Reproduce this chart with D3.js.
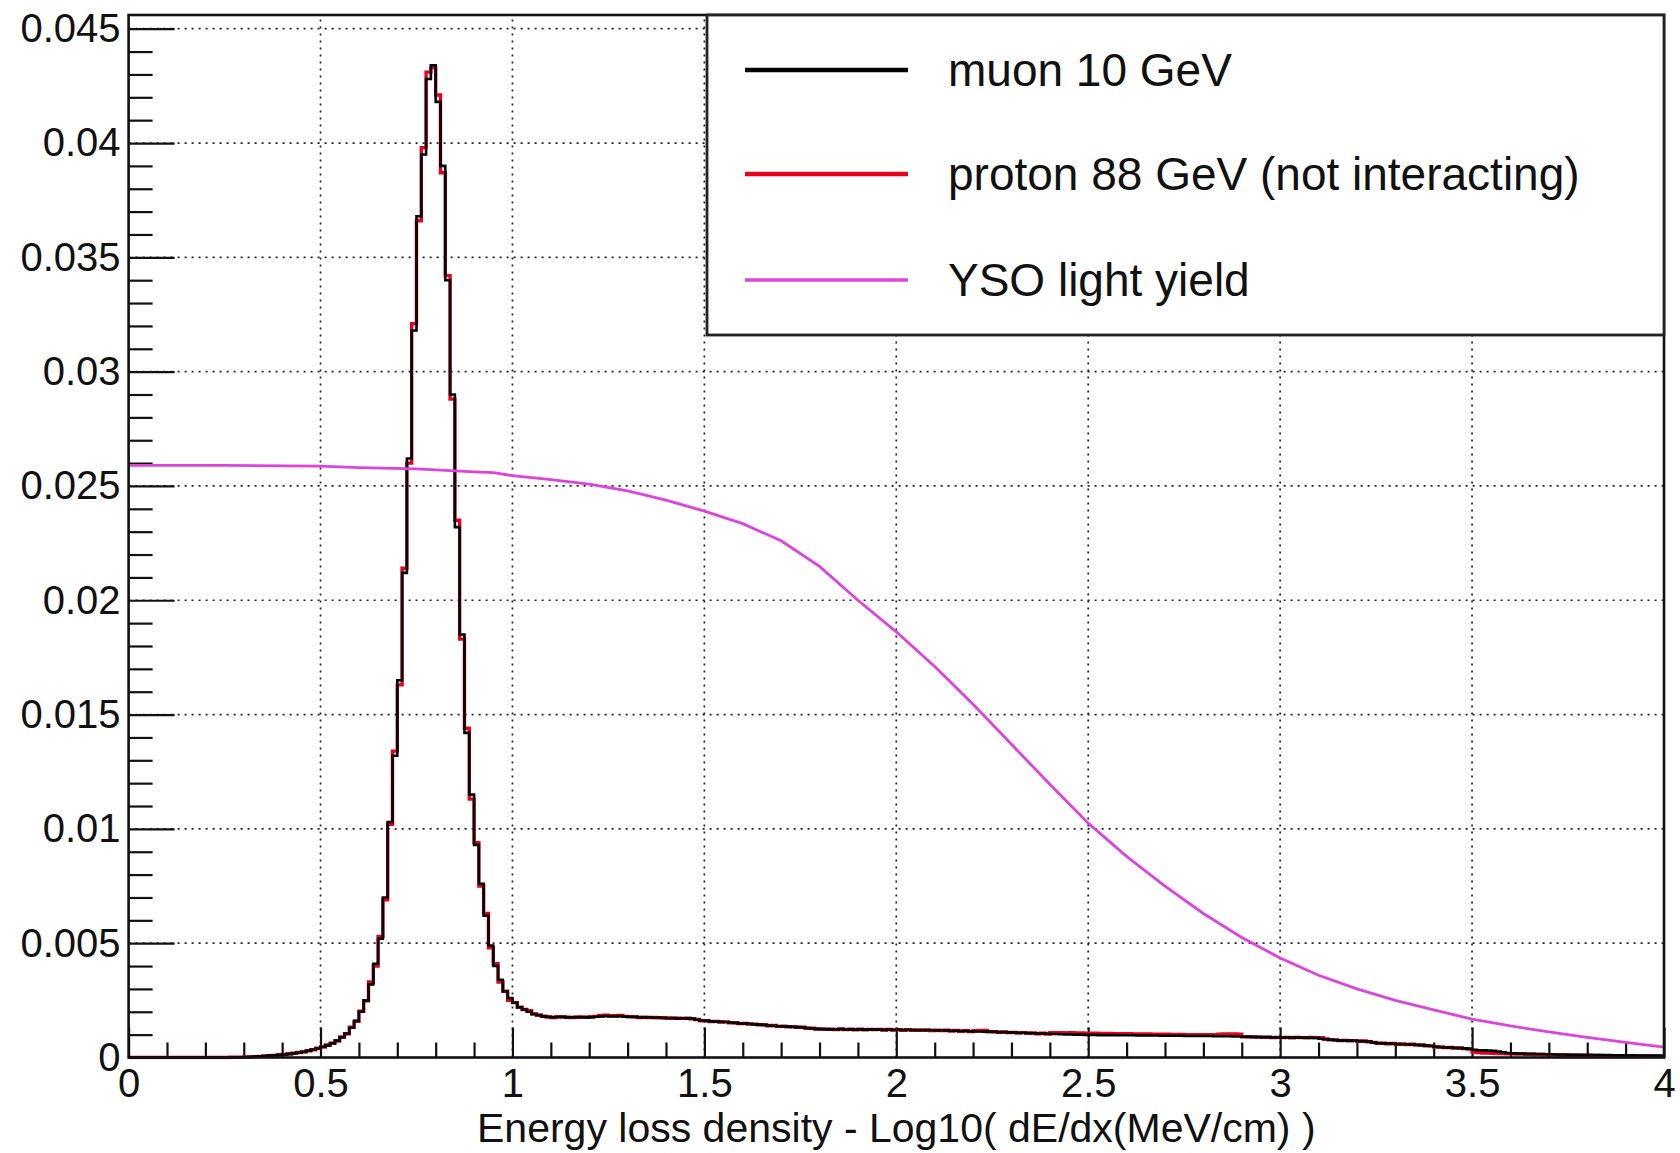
<!DOCTYPE html>
<html lang="en">
<head>
<meta charset="utf-8">
<title>Energy loss density</title>
<script src="https://d3js.org/d3.v7.min.js"></script>
<style>
  body { margin: 0; background: #fff; }
  text { font-family: "Liberation Sans", Arial, Helvetica, sans-serif; fill: #111; }
</style>
</head>
<body>
<script>
// histogram binning: 320 bins of 0.0125 from 0 to 4
var binWidth = 0.0125;

// muon 10 GeV, one row = 0.1 in x (8 bins)
var muonValues = [
  0,0,0,0,0,0,0,0,
  0,0,0,0,0,0,0,0,
  0,0,0,0,0,0,0.00001,0.00001,
  0.00002,0.00003,0.00004,0.00005,0.00006,0.00008,0.0001,0.00011,
  0.00013,0.00016,0.00018,0.00021,0.00025,0.00029,0.00035,0.0004,
  0.00047,0.00053,0.00062,0.00074,0.00088,0.00105,0.0013,0.0016,
  0.002,0.0025,0.0032,0.0041,0.0052,0.007,0.0103,0.0132,
  0.0165,0.0212,0.0262,0.0318,0.0368,0.0395,0.0428,0.0434,
  0.0418,0.039,0.034,0.029,0.0232,0.0185,0.0142,0.0115,
  0.0093,0.0076,0.0062,0.0049,0.004,0.0034,0.0029,0.0026,
  0.0024,0.0022,0.0021,0.002,0.0019,0.00185,0.0018,0.00178,
  0.00176,0.00178,0.00177,0.00175,0.00176,0.00177,0.00176,0.00175,
  0.00176,0.00178,0.0018,0.00181,0.0018,0.0018,0.00181,0.00179,
  0.00178,0.00177,0.00176,0.00175,0.00176,0.00174,0.00175,0.00173,
  0.00173,0.00172,0.00171,0.00172,0.00171,0.0017,0.00165,0.00162,
  0.0016,0.00158,0.00157,0.00156,0.00155,0.00153,0.00151,0.00149,
  0.00148,0.00147,0.00145,0.00144,0.00142,0.0014,0.00139,0.00137,
  0.00136,0.00135,0.00134,0.00133,0.00131,0.00129,0.00127,0.00125,
  0.00124,0.00124,0.00123,0.00123,0.00124,0.00123,0.00123,0.00122,
  0.00123,0.00122,0.00122,0.00123,0.00122,0.00121,0.00122,0.00121,
  0.00121,0.0012,0.00121,0.0012,0.00119,0.0012,0.00119,0.00119,
  0.00118,0.00119,0.00118,0.00117,0.00117,0.00116,0.00116,0.00115,
  0.00114,0.00114,0.00113,0.00113,0.00112,0.00111,0.00111,0.0011,
  0.00109,0.00108,0.00108,0.00107,0.00106,0.00105,0.00105,0.00104,
  0.00103,0.00103,0.00102,0.00101,0.00101,0.001,0.001,0.00099,
  0.00099,0.00099,0.00098,0.00098,0.00098,0.00098,0.00097,0.00097,
  0.00097,0.00097,0.00096,0.00096,0.00096,0.00096,0.00096,0.00095,
  0.00095,0.00095,0.00095,0.00095,0.00094,0.00094,0.00094,0.00094,
  0.00094,0.00094,0.00093,0.00093,0.00093,0.00093,0.00092,0.00092,
  0.00091,0.0009,0.0009,0.00089,0.00089,0.00089,0.00088,0.00088,
  0.00088,0.00088,0.00087,0.00087,0.00087,0.00086,0.00086,0.00086,
  0.00082,0.0008,0.00078,0.00076,0.00075,0.00074,0.00074,0.00073,
  0.00072,0.00071,0.0007,0.00065,0.00063,0.00062,0.00061,0.0006,
  0.00059,0.00058,0.00058,0.00057,0.00056,0.00054,0.00052,0.0005,
  0.00047,0.00045,0.00044,0.00043,0.00042,0.00041,0.0004,0.00038,
  0.00034,0.00032,0.00031,0.0003,0.00029,0.00026,0.00023,0.0002,
  0.00018,0.00017,0.00017,0.00016,0.00016,0.00015,0.00015,0.00014,
  0.00014,0.00013,0.00013,0.00013,0.00012,0.00012,0.00012,0.00012,
  0.00012,0.00011,0.00011,0.00011,0.00011,0.0001,0.0001,0.0001,
  0.0001,0.0001,0.00009,0.00009,0.00009,0.00008,0.00008,0.00008
];

// proton 88 GeV (not interacting)
var protonValues = [
  0,0,0,0,0,0,0,0,
  0,0,0,0,0,0,0,0,
  0,0,0,0,0,0.00001,0.00001,0.00001,
  0.00002,0.00002,0.00004,0.00005,0.00007,0.00008,0.00009,0.00012,
  0.00013,0.00015,0.00019,0.00022,0.00024,0.0003,0.00034,0.00041,
  0.00046,0.00055,0.00063,0.00072,0.0009,0.00104,0.00132,0.00158,
  0.00203,0.00248,0.0033,0.004,0.0053,0.0069,0.0102,0.0134,
  0.0163,0.0214,0.026,0.0321,0.0366,0.0398,0.0431,0.0433,
  0.0421,0.0387,0.0342,0.0288,0.0235,0.0183,0.0144,0.0113,
  0.0094,0.0075,0.0063,0.0048,0.0041,0.0033,0.0029,0.0025,
  0.0024,0.0022,0.0021,0.00205,0.0019,0.00186,0.00181,0.00177,
  0.00175,0.00177,0.00178,0.00176,0.00175,0.00176,0.00177,0.00176,
  0.00178,0.0018,0.00184,0.00185,0.00183,0.00183,0.00184,0.0018,
  0.00178,0.00178,0.00175,0.00176,0.00175,0.00175,0.00174,0.00174,
  0.00172,0.00173,0.00172,0.00171,0.00172,0.00169,0.00166,0.00161,
  0.00161,0.00157,0.00158,0.00155,0.00156,0.00152,0.00152,0.00148,
  0.00149,0.00146,0.00146,0.00143,0.00143,0.00139,0.0014,0.00136,
  0.00137,0.00134,0.00135,0.00132,0.00132,0.00128,0.00128,0.00124,
  0.00125,0.00123,0.00124,0.00122,0.00125,0.00122,0.00124,0.00121,
  0.00124,0.00121,0.00123,0.00122,0.00123,0.0012,0.00123,0.0012,
  0.00122,0.00119,0.00122,0.00119,0.0012,0.00119,0.0012,0.00118,
  0.00119,0.00118,0.00119,0.00116,0.00118,0.00115,0.00117,0.00114,
  0.00117,0.00118,0.00118,0.00112,0.00113,0.0011,0.00112,0.00109,
  0.0011,0.00107,0.00109,0.00106,0.00107,0.00104,0.00106,0.00103,
  0.00108,0.00109,0.00108,0.00107,0.00108,0.00107,0.00107,0.00106,
  0.00106,0.00106,0.00105,0.00105,0.00105,0.00104,0.00104,0.00104,
  0.00104,0.00103,0.00103,0.00103,0.00103,0.00102,0.00102,0.00102,
  0.00102,0.00101,0.00101,0.00101,0.001,0.001,0.001,0.001,
  0.001,0.001,0.001,0.00102,0.00103,0.00103,0.00103,0.00102,
  0.0009,0.00091,0.00089,0.0009,0.00088,0.00089,0.00087,0.00088,
  0.00087,0.00088,0.00086,0.00088,0.00087,0.00087,0.00088,0.00087,
  0.00087,0.00081,0.00077,0.00077,0.00074,0.00075,0.00073,0.00074,
  0.00071,0.00072,0.00069,0.00066,0.00062,0.00063,0.0006,0.00061,
  0.00058,0.00059,0.00057,0.00058,0.00055,0.00055,0.00051,0.00051,
  0.00046,0.00046,0.00043,0.00044,0.00041,0.00042,0.00039,0.00037,
  0.00024,0.00022,0.0002,0.00019,0.00018,0.00017,0.00017,0.00016,
  0.00016,0.00015,0.00015,0.00014,0.00014,0.00013,0.00013,0.00012,
  0.00011,0.00011,0.0001,0.0001,0.0001,0.0001,0.00009,0.00009,
  0.00009,0.00009,0.00009,0.00008,0.00008,0.00008,0.00008,0.00008,
  0.00008,0.00007,0.00007,0.00007,0.00006,0.00006,0.00006,0.00005
];

// YSO light yield curve
var ysoX = [0, 0.25, 0.5, 0.6, 0.75, 0.9, 0.95, 1.0, 1.1, 1.2, 1.3, 1.4, 1.5, 1.6, 1.7, 1.8, 1.9, 2.0,
            2.1, 2.2, 2.3, 2.4, 2.5, 2.6, 2.7, 2.8, 2.9, 3.0, 3.1, 3.2, 3.3, 3.4, 3.5, 3.6, 3.7, 3.8, 3.9, 4.0];
var ysoY = [0.0259, 0.0259, 0.02587, 0.0258, 0.02575, 0.02562, 0.02558, 0.02545, 0.02528, 0.02508,
            0.02478, 0.02438, 0.0239, 0.02335, 0.0226, 0.02148, 0.02, 0.01862, 0.0171, 0.01545,
            0.0137, 0.01195, 0.01025, 0.0088, 0.0075, 0.0063, 0.00525, 0.00435, 0.0036, 0.003,
            0.0025, 0.00208, 0.00168, 0.00138, 0.00112, 0.00088, 0.00066, 0.00045];

var xTicks = [0, 0.5, 1, 1.5, 2, 2.5, 3, 3.5, 4];
var xTickLabels = ["0", "0.5", "1", "1.5", "2", "2.5", "3", "3.5", "4"];
var yTicks = [0, 0.005, 0.01, 0.015, 0.02, 0.025, 0.03, 0.035, 0.04, 0.045];
var yTickLabels = ["0", "0.005", "0.01", "0.015", "0.02", "0.025", "0.03", "0.035", "0.04", "0.045"];

var legendNames = ["muon 10 GeV", "proton 88 GeV (not interacting)", "YSO light yield"];
var legendColors = ["#000000", "#e8001c", "#dd44dd"];

var W = 1680, H = 1153;
var plotLeft = 128.6, plotRight = 1664, plotTop = 15, plotBottom = 1057.5;

var svg = d3.select("body").append("svg")
    .attr("width", W)
    .attr("height", H);
svg.append("rect").attr("width", W).attr("height", H).attr("fill", "#fff");

var x = d3.scaleLinear().domain([0, 4]).range([plotLeft, plotRight]);
var y = d3.scaleLinear().domain([0, 0.0456]).range([plotBottom, plotTop]);

// grid (dotted, ROOT style)
var grid = svg.append("g").attr("stroke", "#222").attr("stroke-width", 1.7).attr("stroke-dasharray", "2,5");
grid.selectAll(".gx").data(xTicks.slice(1, -1)).enter().append("line")
    .attr("x1", function(d){ return x(d); }).attr("x2", function(d){ return x(d); })
    .attr("y1", plotBottom).attr("y2", plotTop);
grid.selectAll(".gy").data(yTicks.slice(1)).enter().append("line")
    .attr("x1", plotLeft).attr("x2", plotRight)
    .attr("y1", function(d){ return y(d); }).attr("y2", function(d){ return y(d); });

// axes with inward ticks
var minorY = d3.range(0, 0.0456, 0.001).filter(function(d){ return Math.abs(d/0.005 - Math.round(d/0.005)) > 1e-6; });
var minorX = d3.range(0, 4.001, 0.1).filter(function(d){ return Math.abs(d/0.5 - Math.round(d/0.5)) > 1e-6; });

function styleAxis(g) {
  g.select(".domain").remove();
  g.selectAll("line").attr("stroke", "#111").attr("stroke-width", 2.2);
  g.selectAll("text").style("font-size", "40px").attr("fill", "#111");
}

svg.append("g").attr("transform", "translate(" + plotLeft + ",0)")
  .call(d3.axisLeft(y).tickValues(minorY).tickSize(-24).tickFormat(""))
  .call(styleAxis);
svg.append("g").attr("transform", "translate(" + plotLeft + ",0)")
  .call(d3.axisLeft(y).tickValues(yTicks).tickSize(-46).tickPadding(8)
        .tickFormat(function(d, i){ return yTickLabels[i]; }))
  .call(styleAxis);

svg.append("g").attr("transform", "translate(0," + plotBottom + ")")
  .call(d3.axisBottom(x).tickValues(minorX).tickSize(-15).tickFormat(""))
  .call(styleAxis);
svg.append("g").attr("transform", "translate(0," + plotBottom + ")")
  .call(d3.axisBottom(x).tickValues(xTicks).tickSize(-30).tickPadding(11)
        .tickFormat(function(d, i){ return xTickLabels[i]; }))
  .call(styleAxis);

// histograms
function histPoints(vals) {
  var pts = vals.map(function(v, i){ return [i * binWidth, v]; });
  pts.push([vals.length * binWidth, vals[vals.length - 1]]);
  return pts;
}
var stepLine = d3.line()
    .x(function(d){ return x(d[0]); })
    .y(function(d){ return y(d[1]); })
    .curve(d3.curveStepAfter);

svg.append("defs").append("clipPath").attr("id", "plotclip")
  .append("rect").attr("x", plotLeft).attr("y", plotTop)
  .attr("width", plotRight - plotLeft).attr("height", plotBottom - plotTop + 2);

var plot = svg.append("g").attr("clip-path", "url(#plotclip)");
plot.append("path").datum(histPoints(protonValues))
    .attr("d", stepLine).attr("fill", "none")
    .attr("stroke", legendColors[1]).attr("stroke-width", 3.4);
plot.append("path").datum(histPoints(muonValues))
    .attr("d", stepLine).attr("fill", "none")
    .attr("stroke", legendColors[0]).attr("stroke-width", 2.6);

var ysoLine = d3.line()
    .x(function(d, i){ return x(ysoX[i]); })
    .y(function(d){ return y(d); });
plot.append("path").datum(ysoY)
    .attr("d", ysoLine).attr("fill", "none")
    .attr("stroke", legendColors[2]).attr("stroke-width", 2.8);

// frame
svg.append("rect").attr("x", plotLeft).attr("y", plotTop)
    .attr("width", plotRight - plotLeft).attr("height", plotBottom - plotTop)
    .attr("fill", "none").attr("stroke", "#111").attr("stroke-width", 2.6);

// legend
var lg = svg.append("g");
lg.append("rect").attr("x", 707).attr("y", plotTop).attr("width", plotRight - 707).attr("height", 335 - plotTop)
    .attr("fill", "#fff").attr("stroke", "#222").attr("stroke-width", 2.8);
var rows = lg.selectAll(".entry").data(legendNames).enter().append("g")
    .attr("transform", function(d, i){ return "translate(0," + [70, 174, 280][i] + ")"; });
rows.append("line").attr("x1", 745).attr("x2", 908).attr("y1", 0).attr("y2", 0)
    .attr("stroke", function(d, i){ return legendColors[i]; })
    .attr("stroke-width", function(d, i){ return i == 2 ? 3.5 : 4.5; });
rows.append("text").attr("x", 948).attr("y", 16)
    .style("font-size", "46px")
    .text(function(d){ return d; });

// x axis title
svg.append("text")
    .attr("x", (plotLeft + plotRight) / 2).attr("y", 1142)
    .attr("text-anchor", "middle")
    .style("font-size", "41px")
    .text("Energy loss density - Log10( dE/dx(MeV/cm) )");
</script>
</body>
</html>
